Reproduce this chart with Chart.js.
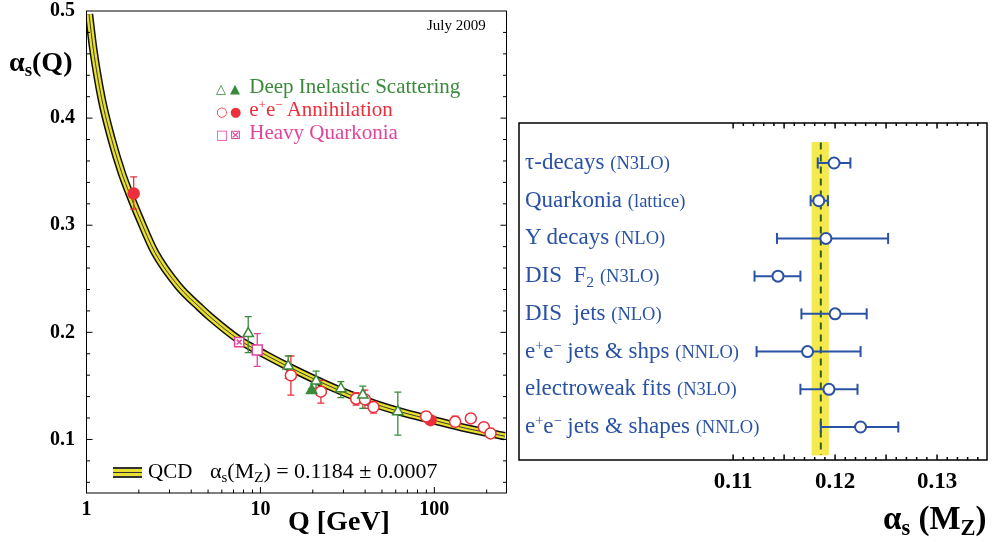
<!DOCTYPE html>
<html lang="en">
<head>
<meta charset="utf-8">
<title>Running of alpha_s</title>
<script src="https://cdn.jsdelivr.net/npm/chart.js@4.4.1/dist/chart.umd.min.js"></script>
<style>
  html, body { margin: 0; padding: 0; background: #fff; }
  #page { position: relative; width: 993px; height: 542px; overflow: hidden;
          font-family: 'Liberation Serif', 'Times New Roman', serif; color: #000; }
  canvas { position: absolute; top: 0; }
  #leftChart { left: 0; }
  #rightChart { left: 510px; }
  .t { position: absolute; white-space: nowrap; line-height: 1; transform: translateY(-50%); }
  .b { font-weight: bold; }
  sup { font-size: 0.62em; position: relative; top: -0.55em; vertical-align: baseline; line-height: 0; }
  sub { font-size: 0.68em; position: relative; top: 0.28em; vertical-align: baseline; line-height: 0; }
  .sym { font-family: 'DejaVu Sans', sans-serif; font-size: 13px; display: inline-block; width: 14px; }
  .row { color: #2a52a4; font-size: 23px; }
  .ord { font-size: 18.5px; }
  #qcdSym { position: absolute; left: 113px; top: 467px; width: 29px; height: 11px;
            background: linear-gradient(#333 0 1.5px, #e8e02c 1.5px 4.5px, #333 4.5px 6px,
                                        #e8e02c 6px 9px, #333 9px 11px); }
</style>
</head>
<body>
<div id="page">
  <canvas id="leftChart" width="510" height="542"></canvas>
  <canvas id="rightChart" width="483" height="542"></canvas>

  <div class="t b" style="left:9px; top:62px; font-size:28px;">α<sub>s</sub>(Q)</div>
  <div class="t" style="left:427px; top:25px; font-size:15px;">July 2009</div>
  <div class="t" style="left:216px; top:86px; font-size:21px; color:#3b8a3b;"><span class="sym">△</span><span class="sym">▲</span> Deep Inelastic Scattering</div>
  <div class="t" style="left:216px; top:109px; font-size:21px; color:#ec2f3b;"><span class="sym">○</span><span class="sym">●</span> e<sup>+</sup>e<sup>−</sup> Annihilation</div>
  <div class="t" style="left:216px; top:132px; font-size:21px; color:#e2449c;"><span class="sym">□</span><span class="sym">⊠</span> Heavy Quarkonia</div>
  <div id="qcdSym"></div>
  <div class="t" style="left:148px; top:471px; font-size:21px;">QCD</div>
  <div class="t" style="left:210px; top:471px; font-size:22px;">α<sub>s</sub>(M<sub>Z</sub>) = 0.1184 ± 0.0007</div>
  <div class="t b" style="left:288px; top:521px; font-size:28px;">Q [GeV]</div>
  <div class="t b" style="left:883px; top:518px; font-size:33px;">α<sub>s</sub> (M<sub>Z</sub>)</div>
</div>

<script>
// QCD curve
const qcdQ = [1.034, 1.094, 1.223, 1.396, 1.594, 1.762, 2.03, 2.476, 3.37, 4.49, 5.13, 7.55, 10.85, 14.45, 26.2, 40.8, 63.4, 98.4, 153, 254];
const qcdAlpha = [0.497, 0.4645, 0.418, 0.380, 0.349, 0.330, 0.3056, 0.2745, 0.2433, 0.2231, 0.2145, 0.193, 0.1785, 0.168, 0.1483, 0.1358, 0.1259, 0.118, 0.1103, 0.1031];

// Deep inelastic scattering
const disOpenQ = [8.51, 14.45, 20.9, 29.0, 38.8, 61.7];
const disOpenA = [0.1988, 0.1685, 0.1545, 0.1474, 0.1414, 0.1259];
const disOpenHi = [0.2147, 0.1779, 0.1638, 0.1539, 0.1498, 0.1442];
const disOpenLo = [0.181, 0.157, 0.148, 0.139, 0.129, 0.104];
const disFullQ = [19.7];
const disFullA = [0.1458];
const disFullHi = [0.1475];
const disFullLo = [0.1441];

// e+e- annihilation
const eeOpenQ = [14.97, 22.27, 35.5, 39.9, 44.7, 89.7, 131.7, 162.1, 192.5, 210.4];
const eeOpenA = [0.1598, 0.1446, 0.138, 0.1374, 0.1302, 0.1215, 0.1165, 0.1196, 0.1115, 0.1056];
const eeOpenHi = [0.1779, 0.1551, 0.1436, 0.1461, 0.1355, 0.126, 0.1218, 0.1227, 0.1156, 0.1104];
const eeOpenLo = [0.1414, 0.1339, 0.132, 0.129, 0.1246, 0.117, 0.113, 0.1165, 0.108, 0.1035];
const eeFullQ = [1.868, 95.1];
const eeFullA = [0.3296, 0.118];
const eeFullHi = [0.3452, 0.1195];
const eeFullLo = [0.315, 0.1165];

// Heavy quarkonia
const hqOpenQ = [9.59];
const hqOpenA = [0.1835];
const hqOpenHi = [0.1988];
const hqOpenLo = [0.1682];
const hqCrossQ = [7.55];
const hqCrossA = [0.1909];
const hqCrossHi = [0.1935];
const hqCrossLo = [0.1883];

const leftYTicks = ['0.1', '0.2', '0.3', '0.4', '0.5'];
const leftXTicks = ['1', '10', '100'];

// Right panel: alpha_s(MZ) by process
const rowNames = ['τ-decays', 'Quarkonia', 'Υ decays', 'DIS&nbsp; F<sub>2</sub>', 'DIS&nbsp; jets',
                  'e<sup>+</sup>e<sup>−</sup> jets &amp; shps', 'electroweak fits', 'e<sup>+</sup>e<sup>−</sup> jets &amp; shapes'];
const rowOrders = ['(N3LO)', '(lattice)', '(NLO)', '(N3LO)', '(NLO)', '(NNLO)', '(N3LO)', '(NNLO)'];
const rowValues = [0.1199, 0.1184, 0.1191, 0.1144, 0.1200, 0.1173, 0.1194, 0.1225];
const rowLow = [0.1183, 0.1176, 0.1143, 0.1121, 0.1167, 0.1123, 0.1166, 0.1186];
const rowHigh = [0.1215, 0.1193, 0.1252, 0.1166, 0.1231, 0.1225, 0.1222, 0.1262];
const avgValue = 0.1186;
const avgLow = 0.1177;
const avgHigh = 0.1193;
const rightXTicks = ['0.11', '0.12', '0.13'];

const BLUE = '#2a52a4';
const GREEN = '#3b8a3b';
const RED = '#ec2f3b';
const PINK = '#e2449c';
const SERIF = "'Liberation Serif', 'Times New Roman', serif";

document.addEventListener('DOMContentLoaded', function() {
    createLeftChart();
    createRightChart();
});

function pts(xs, ys) {
    return xs.map((x, i) => ({ x: x, y: ys[i] }));
}

// fixed axis box sizes, no extra label padding
function fixWidth(w) {
    return s => { s.width = w; s.paddingTop = 0; s.paddingBottom = 0; };
}
function fixHeight(h) {
    return s => { s.height = h; s.paddingLeft = 0; s.paddingRight = 0; };
}

// box round the plot area with ticks pointing inwards
const frameTicks = {
    id: 'frameTicks',
    afterDatasetsDraw(chart, args, opts) {
        const ctx = chart.ctx;
        const a = chart.chartArea;
        const xs = chart.scales.x;
        const ys = chart.scales.y;
        ctx.save();
        ctx.strokeStyle = '#000';
        ctx.lineWidth = opts.lineWidth;
        ctx.beginPath();
        (opts.xTicks || []).forEach(t => {
            const px = xs.getPixelForValue(t.v);
            ctx.moveTo(px, a.bottom);
            ctx.lineTo(px, a.bottom - t.len);
            if (opts.topTicks) {
                ctx.moveTo(px, a.top);
                ctx.lineTo(px, a.top + t.len);
            }
        });
        (opts.yTicks || []).forEach(t => {
            const py = ys.getPixelForValue(t.v);
            ctx.moveTo(a.left, py);
            ctx.lineTo(a.left + t.len, py);
            ctx.moveTo(a.right, py);
            ctx.lineTo(a.right - t.len, py);
        });
        ctx.stroke();
        ctx.strokeRect(a.left, a.top, a.right - a.left, a.bottom - a.top);
        ctx.restore();
    }
};

// alpha_s(Q) against Q
function createLeftChart() {
    const ctx = document.getElementById('leftChart');
    const curve = pts(qcdQ, qcdAlpha);

    const bandLine = (color, width, order) => ({
        data: curve, borderColor: color, borderWidth: width, pointRadius: 0,
        cubicInterpolationMode: 'monotone', order: order
    });
    const markers = (xs, ys, style, fill, color, radius, order) => ({
        data: pts(xs, ys), showLine: false, pointStyle: style, pointRadius: radius,
        pointBackgroundColor: fill, pointBorderColor: color, pointBorderWidth: 1.5, order: order
    });
    const bars = (xs, lo, hi, color) => xs.map((x, i) => ({
        data: [{ x: x, y: lo[i] }, { x: x, y: hi[i] }], borderColor: color, borderWidth: 1.3,
        pointStyle: 'line', pointRadius: 3.5, pointBorderColor: color, pointBorderWidth: 1.3, order: 5
    }));

    const datasets = [
        markers(hqCrossQ, hqCrossA, 'crossRot', PINK, PINK, 3.5, 0),
        markers(hqCrossQ, hqCrossA, 'rect', '#fff', PINK, 6.5, 1),
        markers(hqOpenQ, hqOpenA, 'rect', '#fff', PINK, 7, 1),
        markers(disOpenQ, disOpenA, 'triangle', '#fff', GREEN, 6, 1),
        markers(disFullQ, disFullA, 'triangle', GREEN, GREEN, 6, 1),
        markers(eeOpenQ, eeOpenA, 'circle', '#fff', RED, 5.5, 1),
        markers(eeFullQ, eeFullA, 'circle', RED, RED, 5.5, 1)
    ].concat(
        bars(hqCrossQ, hqCrossLo, hqCrossHi, PINK),
        bars(hqOpenQ, hqOpenLo, hqOpenHi, PINK),
        bars(disOpenQ, disOpenLo, disOpenHi, GREEN),
        bars(disFullQ, disFullLo, disFullHi, GREEN),
        bars(eeOpenQ, eeOpenLo, eeOpenHi, RED),
        bars(eeFullQ, eeFullLo, eeFullHi, RED),
        [bandLine('#3a3a3a', 1, 10), bandLine('#e8e02c', 5.5, 11), bandLine('#111', 8.5, 12)]
    );

    const yMarks = [];
    for (let k = 3; k <= 24; k++) {
        yMarks.push({ v: k * 0.02, len: k % 5 === 0 ? 6 : 3.5 });
    }
    const xMarks = [];
    [1, 10, 100].forEach(d => {
        for (let m = 1; m <= 9; m++) {
            const v = m * d;
            if (v > 1 && v < 260) xMarks.push({ v: v, len: m === 1 ? 6 : 3.5 });
        }
    });

    new Chart(ctx, {
        type: 'line',
        data: { datasets: datasets },
        options: {
            responsive: false,
            animation: false,
            events: [],
            layout: { autoPadding: false, padding: { top: 11, right: 3.5, left: 0, bottom: 0 } },
            plugins: {
                legend: { display: false },
                tooltip: { enabled: false },
                frameTicks: { lineWidth: 1, xTicks: xMarks, yTicks: yMarks, topTicks: false }
            },
            scales: {
                x: {
                    type: 'logarithmic',
                    min: 1,
                    max: 260,
                    grid: { display: false, drawTicks: false },
                    border: { display: false },
                    afterBuildTicks: s => { s.ticks = leftXTicks.map(v => ({ value: Number(v) })); },
                    afterFit: fixHeight(49),
                    ticks: {
                        callback: v => String(v),
                        autoSkip: false,
                        maxRotation: 0,
                        padding: 5,
                        color: '#000',
                        font: { family: SERIF, size: 20, weight: 'bold' }
                    }
                },
                y: {
                    min: 0.05,
                    max: 0.5,
                    grid: { display: false, drawTicks: false },
                    border: { display: false },
                    afterBuildTicks: s => { s.ticks = leftYTicks.map(v => ({ value: Number(v) })); },
                    afterFit: fixWidth(86.5),
                    ticks: {
                        callback: v => v.toFixed(1),
                        padding: 11.5,
                        color: '#000',
                        font: { family: SERIF, size: 20, weight: 'bold' }
                    }
                }
            }
        },
        plugins: [frameTicks]
    });
}

// alpha_s(MZ) summary by process
function createRightChart() {
    const ctx = document.getElementById('rightChart');
    const bandTop = -0.54;
    const bandBottom = 7.74;

    const datasets = [{
        data: rowValues.map((v, i) => ({ x: v, y: i })),
        showLine: false, pointStyle: 'circle', pointRadius: 5.5,
        pointBackgroundColor: '#fff', pointBorderColor: BLUE, pointBorderWidth: 2, order: 0
    }];
    rowValues.forEach((v, i) => {
        datasets.push({
            data: [{ x: rowLow[i], y: i }, { x: rowHigh[i], y: i }],
            borderColor: BLUE, borderWidth: 2, pointStyle: 'line', pointRotation: 90,
            pointRadius: 5.5, pointBorderColor: BLUE, pointBorderWidth: 2, order: 1
        });
    });
    datasets.push({
        data: [{ x: avgValue, y: bandTop }, { x: avgValue, y: bandBottom }],
        borderColor: '#2d5e2d', borderWidth: 2, borderDash: [7, 5], pointRadius: 0, order: 2
    });
    datasets.push({
        data: [{ x: avgLow, y: bandTop }, { x: avgHigh, y: bandTop }, { x: avgHigh, y: bandBottom }, { x: avgLow, y: bandBottom }],
        borderColor: '#f5e94e', borderWidth: 1, backgroundColor: '#f5e94e', fill: 'shape', pointRadius: 0, order: 3
    });

    const xMarks = [];
    for (let k = 110; k <= 134; k++) {
        xMarks.push({ v: k / 1000, len: k % 5 === 0 ? 5.5 : 3 });
    }

    const chart = new Chart(ctx, {
        type: 'line',
        data: { datasets: datasets },
        options: {
            responsive: false,
            animation: false,
            events: [],
            layout: { autoPadding: false, padding: { top: 123, right: 6, left: 9, bottom: 0 } },
            plugins: {
                legend: { display: false },
                tooltip: { enabled: false },
                frameTicks: { lineWidth: 1.5, xTicks: xMarks, topTicks: true }
            },
            scales: {
                x: {
                    type: 'linear',
                    min: 0.089,
                    max: 0.1349,
                    grid: { display: false, drawTicks: false },
                    border: { display: false },
                    afterBuildTicks: s => { s.ticks = rightXTicks.map(v => ({ value: Number(v) })); },
                    afterFit: fixHeight(82),
                    ticks: {
                        callback: v => v.toFixed(2),
                        autoSkip: false,
                        maxRotation: 0,
                        padding: 8,
                        color: '#000',
                        font: { family: SERIF, size: 23, weight: 'bold' }
                    }
                },
                y: {
                    type: 'linear',
                    reverse: true,
                    min: -1.06,
                    max: 7.875,
                    display: false
                }
            }
        },
        plugins: [frameTicks]
    });

    // row labels sit on the same y scale as the points
    const page = document.getElementById('page');
    rowNames.forEach((name, i) => {
        const el = document.createElement('div');
        el.className = 't row';
        el.innerHTML = name + ' <span class="ord">' + rowOrders[i] + '</span>';
        el.style.left = '525px';
        el.style.top = (chart.scales.y.getPixelForValue(i) - 2) + 'px';
        page.appendChild(el);
    });
}
</script>
</body>
</html>
